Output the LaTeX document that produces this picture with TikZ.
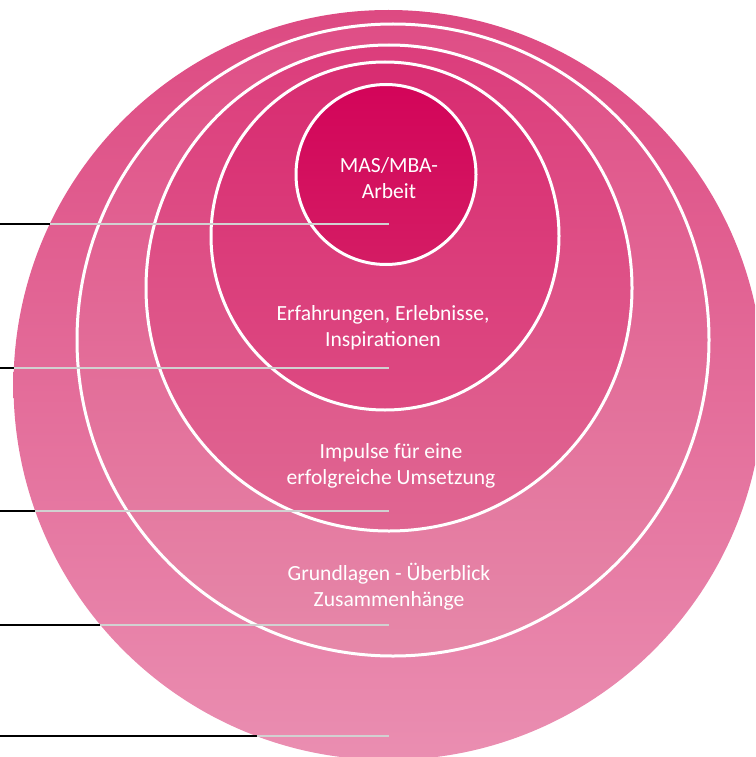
\documentclass[tikz,border=0pt]{standalone}
\usepackage{fontspec}
\setmainfont{Carlito}
\begin{document}
\begin{tikzpicture}[x=1pt,y=-1pt,
  ring/.style={draw=white,line width=3pt},
  lbl/.style={text=white,align=center,font=\fontsize{21.6}{26.2}\selectfont,inner sep=0pt},
  outerline/.style={black,line width=1.4pt},
  innerline/.style={draw=white!82!black,line width=1.4pt}]
\useasboundingbox (0,0) rectangle (755,757);
\clip (0,0) rectangle (755,757);
% outer circle
\shade[top color={rgb,255:red,221;green,74;blue,130},bottom color={rgb,255:red,234;green,142;blue,177}]
  (388.5,385) circle[radius=375];
% ring 2
\shadedraw[ring,top color={rgb,255:red,223;green,78;blue,134},bottom color={rgb,255:red,230;green,136;blue,169}]
  (393,340) circle[radius=316];
% ring 3
\shadedraw[ring,top color={rgb,255:red,220;green,61;blue,124},bottom color={rgb,255:red,224;green,102;blue,146}]
  (389,288) circle[radius=243];
% ring 4
\shadedraw[ring,top color={rgb,255:red,216;green,44;blue,113},bottom color={rgb,255:red,221;green,74;blue,130}]
  (385,236) circle[radius=174];
% ring 5
\shadedraw[ring,top color={rgb,255:red,211;green,4;blue,89},bottom color={rgb,255:red,212;green,28;blue,100}]
  (386,174.5) circle[radius=90];
% labels
\node[lbl] (mas) at (389,178) {MAS/MBA-\\Arbeit};
\node[lbl] (erf) at (383,327.5) {Erfahrungen, Erlebnisse,\\Inspirationen};
\node[lbl] (imp) at (391,465.5) {Impulse für eine\\erfolgreiche Umsetzung};
\node[lbl] (grd) at (389,586.5) {Grundlagen - Überblick\\Zusammenhänge};
% connector coordinates
\coordinate (a0) at (0,224);   \coordinate (a1) at (49.8,224);  \coordinate (a2) at (389,224);
\coordinate (b0) at (0,368);   \coordinate (b1) at (13.9,368);  \coordinate (b2) at (389,368);
\coordinate (c0) at (0,511);   \coordinate (c1) at (35.3,511);  \coordinate (c2) at (389,511);
\coordinate (d0) at (0,625);   \coordinate (d1) at (100.4,625); \coordinate (d2) at (389,625);
\coordinate (e0) at (0,736);   \coordinate (e1) at (256.5,736); \coordinate (e2) at (389,736);
\foreach \p in {a,b,c,d,e}{
  \draw[outerline] (\p0) -- (\p1);
  \draw[innerline] (\p1) -- (\p2);
}
\end{tikzpicture}
\end{document}
